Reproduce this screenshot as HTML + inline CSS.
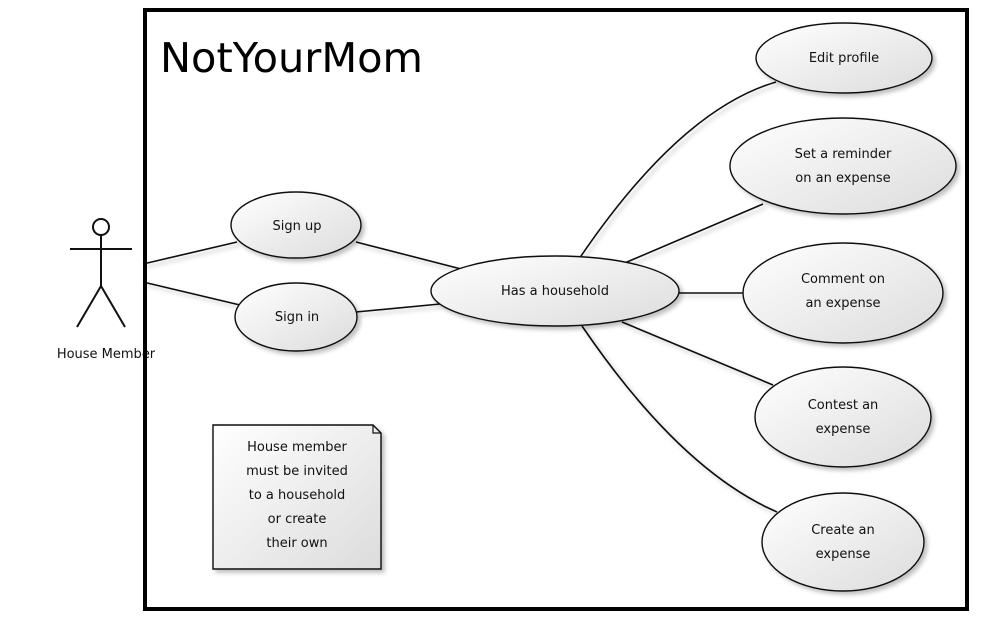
<!DOCTYPE html>
<html><head><style>body{margin:0;background:#fff}svg{display:block}</style></head><body>
<svg width="985" height="621" viewBox="0 0 985 621" xmlns="http://www.w3.org/2000/svg" font-family="'DejaVu Sans','Liberation Sans',sans-serif" font-size="13" fill="#111">
<defs>
<linearGradient id="g" x1="0" y1="0" x2="1" y2="1"><stop offset="0" stop-color="#fff"/><stop offset="1" stop-color="#dcdcdc"/></linearGradient>
<filter id="s" x="-20%" y="-20%" width="150%" height="150%"><feDropShadow dx="3" dy="3" stdDeviation="2" flood-color="#000" flood-opacity="0.25"/></filter>
</defs>
<rect x="145" y="10" width="822" height="599" fill="#fff" stroke="#000" stroke-width="4"/>
<text x="160" y="72" font-family="'DejaVu Sans',sans-serif" font-size="41" fill="#000" textLength="263" lengthAdjust="spacingAndGlyphs">NotYourMom</text>
<g stroke="#111" stroke-width="1.6" fill="none" filter="url(#s)">
<line x1="143" y1="264" x2="237" y2="242"/>
<line x1="143" y1="282" x2="240" y2="305"/>
<line x1="356" y1="242" x2="465" y2="270"/>
<line x1="356" y1="312" x2="440" y2="304"/>
<path d="M579 259 Q680 110 776 82"/>
<line x1="620" y1="265" x2="763" y2="204"/>
<line x1="679" y1="293" x2="743" y2="293"/>
<line x1="622" y1="322" x2="773" y2="385"/>
<path d="M582 326 Q680 470 777 512"/>
</g>
<g stroke="#111" stroke-width="1.4" fill="url(#g)" filter="url(#s)">
<ellipse cx="844" cy="58" rx="88" ry="35"/>
<ellipse cx="843" cy="166" rx="113" ry="48"/>
<ellipse cx="843" cy="293" rx="100" ry="50"/>
<ellipse cx="843" cy="417" rx="88" ry="50"/>
<ellipse cx="843" cy="542" rx="81" ry="49"/>
<ellipse cx="555" cy="291" rx="124" ry="35"/>
<ellipse cx="296" cy="225" rx="65" ry="33"/>
<ellipse cx="296" cy="317" rx="61" ry="34"/>
<path d="M213 425 H373 L381 433 V569 H213 Z"/>
</g>
<path d="M373 425 V433 H381" stroke="#111" stroke-width="1.2" fill="none"/>
<g stroke="#111" stroke-width="2" fill="none">
<circle cx="101" cy="227" r="8"/>
<line x1="101" y1="235" x2="101" y2="286"/>
<line x1="70" y1="249" x2="132" y2="249"/>
<line x1="101" y1="286" x2="77" y2="327"/>
<line x1="101" y1="286" x2="125" y2="327"/>
</g>
<g text-anchor="middle">
<text x="106" y="358">House Member</text>
<text x="844" y="62">Edit profile</text>
<text x="843" y="158">Set a reminder</text>
<text x="843" y="182">on an expense</text>
<text x="843" y="283">Comment on</text>
<text x="843" y="307">an expense</text>
<text x="843" y="409">Contest an</text>
<text x="843" y="433">expense</text>
<text x="843" y="534">Create an</text>
<text x="843" y="558">expense</text>
<text x="555" y="295">Has a household</text>
<text x="297" y="230">Sign up</text>
<text x="297" y="321">Sign in</text>
<text x="297" y="451">House member</text>
<text x="297" y="475">must be invited</text>
<text x="297" y="499">to a household</text>
<text x="297" y="523">or create</text>
<text x="297" y="547">their own</text>
</g>
<rect x="143" y="8" width="4" height="603" fill="#000"/>
</svg>
</body></html>
